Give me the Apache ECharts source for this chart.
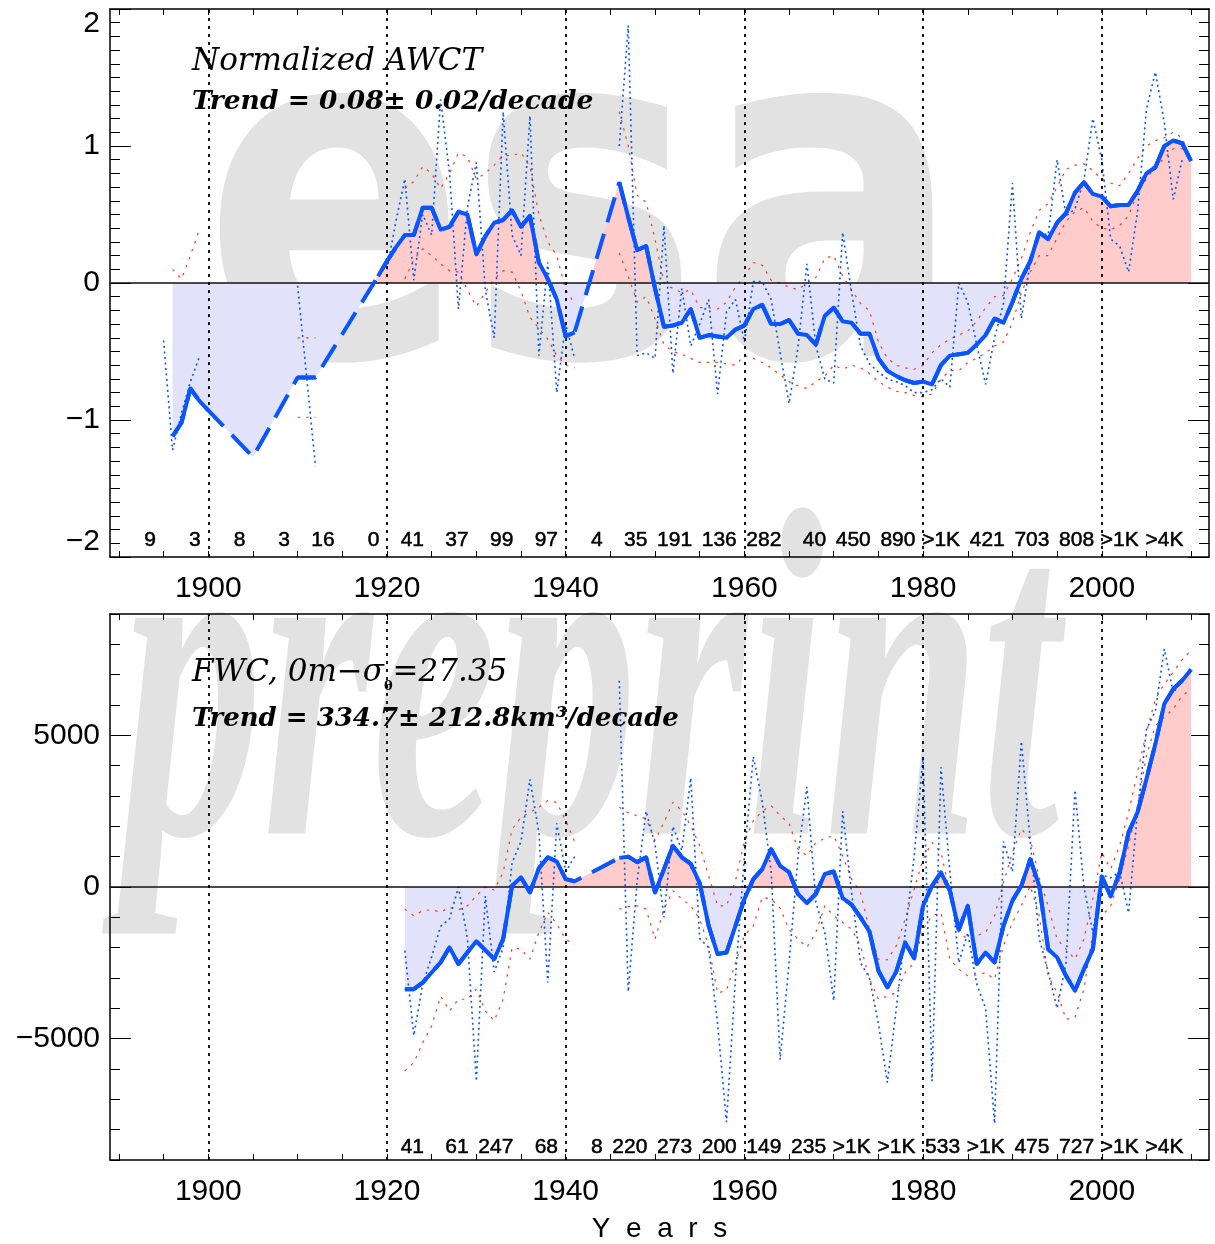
<!DOCTYPE html>
<html><head><meta charset="utf-8">
<script src="https://cdn.jsdelivr.net/npm/echarts@6/dist/echarts.min.js"></script>
<style>html,body{margin:0;padding:0;background:#fff}#c{width:1215px;height:1244px}</style>
</head><body><div id="c"></div>
<script>
// ---------------- DATA ----------------
const topStartYear = 1895;
// smoothed normalized AWCT (null = no data, drawn dashed across)
const topMain = [null,-1.12,-1.02,-0.77,-0.86,-0.93,null,null,null,null,-1.27,null,null,null,null,-0.69,-0.69,-0.69,null,null,null,null,null,null,
 0.05,0.16,0.26,0.35,0.35,0.55,0.55,0.39,0.41,0.52,0.50,0.21,0.34,0.44,0.46,0.53,0.41,0.49,0.15,0.03,-0.12,-0.39,-0.36,null,null,null,null,
 0.735,0.48,0.24,0.27,-0.04,-0.32,-0.31,-0.29,-0.19,-0.40,-0.38,-0.39,-0.40,-0.34,-0.31,-0.19,-0.16,-0.30,-0.30,-0.27,-0.37,-0.38,-0.45,-0.24,-0.18,
 -0.28,-0.29,-0.37,-0.37,-0.55,-0.64,-0.68,-0.71,-0.73,-0.72,-0.74,-0.60,-0.53,-0.52,-0.51,-0.45,-0.38,-0.26,-0.29,-0.14,0.03,0.16,0.37,0.32,0.44,
 0.51,0.66,0.735,0.65,0.63,0.56,0.57,0.57,0.67,0.80,0.845,1.00,1.04,1.02,0.89];
// annual values
const topRaw = [-0.42,-1.22,-0.95,-0.72,-0.54,null,null,null,null,null,null,null,null,null,null,-0.02,-0.68,-1.34,null,null,null,null,null,null,null,
 0.10,0.45,0.76,0.02,0.50,0.35,1.34,0.80,-0.19,0.55,0.88,-0.05,-0.40,1.25,0.35,0.20,1.22,-0.53,0.15,-0.80,-0.30,-0.55,null,null,null,null,
 1.00,1.88,-0.53,-0.51,-0.55,0.42,-0.66,-0.04,-0.46,-0.30,-0.12,-0.81,-0.21,-0.12,-0.43,0.01,0.01,-0.12,-0.51,-0.88,-0.47,0.14,-0.46,-0.70,-0.73,
 0.37,-0.07,-0.46,-0.59,-0.65,-0.70,-0.72,-0.75,-0.80,-0.80,-0.78,-0.70,-0.76,0.00,-0.14,-0.45,-0.74,-0.40,-0.15,0.73,-0.26,0.15,0.37,0.35,0.90,
 0.49,0.54,0.75,1.20,0.90,0.32,0.27,0.08,0.52,1.27,1.54,1.17,0.61,0.90,null];
// error bounds
const topUpper = [null,0.10,0.03,0.20,0.39,null,null,null,null,null,null,null,null,null,null,-0.40,-0.40,-0.40,null,null,null,null,null,null,null,
 null,null,0.69,0.74,0.85,0.80,0.69,0.80,0.95,0.92,0.76,0.80,0.86,0.93,0.93,0.95,0.85,0.50,0.30,0.20,-0.05,-0.15,null,null,null,null,
 1.25,1.00,0.64,0.59,0.32,0.00,-0.04,-0.07,-0.05,-0.18,-0.18,-0.19,-0.14,-0.03,0.05,0.15,0.13,0.02,0.00,-0.03,-0.05,0.00,0.04,0.18,0.20,
 0.05,-0.05,-0.15,-0.20,-0.43,-0.55,-0.60,-0.62,-0.63,-0.60,-0.51,-0.45,-0.41,-0.38,-0.35,-0.28,-0.18,-0.10,-0.09,0.03,0.18,0.37,0.53,0.58,0.70,
 0.83,0.86,0.87,0.82,0.76,0.73,0.71,0.80,0.91,1.00,1.04,1.06,1.10,1.06,0.88];
const topLower = [null,null,null,null,null,null,null,null,null,null,null,null,null,null,null,-0.98,-0.98,-0.98,null,null,null,null,null,null,null,
 null,null,0.03,0.17,0.25,0.20,0.14,0.09,0.08,-0.05,-0.17,-0.07,0.03,0.09,0.08,-0.06,-0.25,-0.33,-0.41,-0.53,-0.60,-0.62,null,null,null,null,
 0.22,0.05,-0.14,-0.10,-0.26,-0.45,-0.50,-0.52,-0.55,-0.58,-0.58,-0.58,-0.59,-0.60,-0.53,-0.55,-0.58,-0.62,-0.67,-0.72,-0.75,-0.77,-0.72,-0.68,-0.60,
 -0.63,-0.60,-0.62,-0.66,-0.72,-0.76,-0.79,-0.80,-0.82,-0.83,-0.81,-0.70,-0.64,-0.64,-0.58,-0.55,-0.51,-0.46,-0.43,-0.29,-0.07,0.08,0.20,0.20,0.33,
 0.45,0.52,0.55,0.45,0.40,0.39,0.42,0.49,0.66,0.76,0.85,0.91,0.98,0.98,0.90];

const botStartYear = 1922;
// FWC smoothed (km^3)
const botMain = [-3370,-3370,-3150,-2820,-2490,-1990,-2540,-2160,-1790,-2080,-2380,-1720,40,320,-180,620,980,840,260,190,null,null,null,null,
 960,1000,820,980,-180,590,1360,980,760,130,-1280,-2210,-2160,-1280,-400,260,590,1250,700,490,-230,-530,-230,430,510,-370,-580,-1000,-1470,
 -2760,-3310,-2790,-1830,-2350,-620,40,480,-120,-1410,-620,-2540,-2160,-2490,-1280,-450,40,920,40,-2050,-2320,-2930,-3420,-2710,-2050,350,
 -310,480,1800,2460,3560,4720,6040,6530,6810,7170];
const botRaw = [-2100,-4900,-3200,-2300,-1300,-1050,0,-1700,-6400,-300,-2800,-2000,800,1500,3550,1800,-3150,2100,500,1000,null,null,null,null,
 6800,-3450,200,2500,1400,-1000,2000,1200,3600,-1700,-2000,-4500,-7750,-3000,1000,4300,2800,500,-5700,-2500,1000,3300,-500,-1500,-3750,2500,
 -200,-2500,-3000,-4500,-6450,-4000,-1500,1000,4300,-6400,3950,500,-2500,-1500,-3200,-4000,-7800,1500,500,4800,1500,-1700,-2800,-4000,-2500,
 3200,0,-1500,400,300,500,-850,2500,5200,5800,7850,6400,6800,7200];
const botUpper = [-730,-950,-780,-750,-830,-670,-750,-620,-290,0,-100,480,1900,2300,2460,2630,2850,2790,2190,1500,null,null,null,null,
 2630,2450,2350,2250,1530,2130,2790,2520,2020,1360,370,-620,-620,200,1500,2190,2500,2680,2350,2100,1250,1030,1470,1600,1690,1030,260,-180,
 -1390,-2380,-2400,-1940,-1060,-70,920,1470,1150,-180,-1500,-1720,-1600,-1500,-950,150,1140,1910,1580,300,-620,-1720,-2050,-2380,-1720,-400,
 1140,600,1360,2460,3780,5100,6200,6700,7080,7500,7800];
const botLower = [-6060,-5790,-5130,-4580,-3600,-4080,-3700,-3700,-3370,-4080,-4410,-3700,-2000,-2050,-2380,-1500,-840,-1220,-1720,-1900,null,null,null,null,
 -730,-650,-620,-730,-1720,-730,-120,-400,-620,-1060,-1940,-3500,-3400,-2500,-1600,-1280,-340,-400,-700,-1400,-1720,-1990,-1500,-620,-950,-1170,
 -1390,-1940,-3040,-3700,-3600,-3480,-2820,-2500,-1390,-950,-840,-2380,-2710,-2930,-2900,-2820,-3040,-1940,-1170,-620,40,-950,-2930,-3480,-4360,
 -4300,-3370,-1500,-950,-620,260,1360,2680,4330,5320,5600,5870,6300,6530];

// number of profiles per 5-year bin
const topCountBins = [1890,1895,1900,1905,1910,1915,1920,1925,1930,1935,1940,1945,1950,1955,1960,1965,1970,1975,1980,1985,1990,1995,2000,2005];
const topCounts = ['9','3','8','3','16','0','41','37','99','97','4','35','191','136','282','40','450','890','>1K','421','703','808','>1K','>4K'];
const botCountBins = [1920,1925,1930,1935,1940,1945,1950,1955,1960,1965,1970,1975,1980,1985,1990,1995,2000,2005];
const botCounts = ['41','61','247','68','8','220','273','200','149','235','>1K','>1K','533','>1K','475','727','>1K','>4K'];

// axis ticks
const decadeLines = [1900,1920,1940,1960,1980,2000];
const xLabelTicks = [1900,1920,1940,1960,1980,2000];
const xMinorTicks = [1890,1895,1900,1905,1910,1915,1920,1925,1930,1935,1940,1945,1950,1955,1960,1965,1970,1975,1980,1985,1990,1995,2000,2005,2010];
const topYLabels = [-2,-1,0,1,2];
const topYMinor = [-1.9,-1.8,-1.7,-1.6,-1.5,-1.4,-1.3,-1.2,-1.1,-0.9,-0.8,-0.7,-0.6,-0.5,-0.4,-0.3,-0.2,-0.1,0.1,0.2,0.3,0.4,0.5,0.6,0.7,0.8,0.9,1.1,1.2,1.3,1.4,1.5,1.6,1.7,1.8,1.9];
const botYLabels = [-5000,0,5000];
const botYMinor = [-9000,-8000,-7000,-6000,-4000,-3000,-2000,-1000,1000,2000,3000,4000,6000,7000,8000,9000];

// ---------------- CHART ----------------
const BLUE = '#0a55ff', RED = '#ff3a1a', PINK = '#ffcccc', LAV = '#e2e2fb';
const SANS = '"Liberation Sans", Arial, sans-serif';
const SERIF = '"DejaVu Serif", serif';
const pairs = (start, arr) => arr.map((v, i) => [start + i, v]);
const minus = v => String(v).replace('-', '\u2212');

function xAxes(grid, withLabels, name) {
  const common = {
    type: 'value', gridIndex: grid, min: 1889, max: 2012,
    axisLine: { show: true, onZero: false, lineStyle: { color: '#000', width: 1.5 } },
    axisTick: { show: true, inside: true, length: 6, customValues: xMinorTicks, lineStyle: { color: '#000', width: 1 } },
    splitLine: { show: false }
  };
  return [
    Object.assign({}, common, {
      position: 'bottom',
      axisLabel: { show: withLabels, customValues: xLabelTicks, formatter: v => String(v), fontSize: 30, color: '#000', fontFamily: SANS, margin: 17 },
      name: name || '', nameLocation: 'middle', nameGap: 55,
      nameTextStyle: { fontSize: 28, color: '#000', fontFamily: SANS }
    }),
    Object.assign({}, common, { position: 'top', axisLabel: { show: false } })
  ];
}
function yAxes(grid, min, max, labels, minor, edgeAlign) {
  const base = { type: 'value', gridIndex: grid, min: min, max: max, splitLine: { show: false } };
  const line = { show: true, onZero: false, lineStyle: { color: '#000', width: 1.5 } };
  const majTick = { show: true, inside: true, length: 21, customValues: labels, lineStyle: { color: '#000', width: 1 } };
  const minTick = { show: true, inside: true, length: 10, customValues: minor, lineStyle: { color: '#000', width: 1 } };
  const lab = { show: true, customValues: labels, formatter: minus, fontSize: 30, color: '#000', fontFamily: SANS, margin: 10 };
  if (edgeAlign) { lab.verticalAlignMinLabel = 'bottom'; lab.verticalAlignMaxLabel = 'top'; }
  return [
    Object.assign({}, base, { position: 'left', axisLine: line, axisTick: majTick, axisLabel: lab }),
    Object.assign({}, base, { position: 'left', axisLine: { show: false }, axisTick: minTick, axisLabel: { show: false } }),
    Object.assign({}, base, { position: 'right', axisLine: line, axisTick: majTick, axisLabel: { show: false } }),
    Object.assign({}, base, { position: 'right', axisLine: { show: false }, axisTick: minTick, axisLabel: { show: false } })
  ];
}

function panelSeries(xi, yi, start, main, raw, upper, lower, bins, counts, countY) {
  const mainPts = pairs(start, main);
  const common = { type: 'line', xAxisIndex: xi, yAxisIndex: yi, symbol: 'none', silent: true, animation: false };
  return [
    Object.assign({}, common, { name: 'fill', data: mainPts, connectNulls: true, z: 1,
      lineStyle: { width: 0, opacity: 0 }, areaStyle: { opacity: 1 } }),
    Object.assign({}, common, { name: 'refs', data: [], z: 2,
      markLine: { silent: true, symbol: 'none', animation: false, label: { show: false },
        lineStyle: { color: '#000', type: [3, 5], width: 1.8 },
        data: [{ yAxis: 0, lineStyle: { type: 'solid', width: 1.5, color: '#111' } }].concat(decadeLines.map(d => ({ xAxis: d }))) } }),
    Object.assign({}, common, { name: 'upper', data: pairs(start, upper), connectNulls: false, z: 3,
      lineStyle: { color: RED, width: 1.2, type: [2.5, 6] } }),
    Object.assign({}, common, { name: 'lower', data: pairs(start, lower), connectNulls: false, z: 3,
      lineStyle: { color: RED, width: 1.2, type: [2.5, 6] } }),
    Object.assign({}, common, { name: 'annual', data: pairs(start, raw), connectNulls: false, z: 4,
      lineStyle: { color: BLUE, width: 1.6, type: [2, 3.5] } }),
    Object.assign({}, common, { name: 'gap', data: mainPts, connectNulls: true, z: 5,
      lineStyle: { color: BLUE, width: 4, type: [26, 12] } }),
    Object.assign({}, common, { name: 'smooth', data: mainPts, connectNulls: false, z: 6,
      lineStyle: { color: BLUE, width: 4, join: 'round' } }),
    { type: 'scatter', xAxisIndex: xi, yAxisIndex: yi, silent: true, animation: false, z: 7,
      symbolSize: 1, itemStyle: { color: '#ffffff', opacity: 1 },
      data: bins.map((b, i) => [b + 4.2, countY, counts[i]]),
      label: { show: true, position: 'left', distance: 0, formatter: p => p.data[2], fontSize: 21, opacity: 1,
               color: '#000', textBorderColor: '#000', textBorderWidth: 0.5, fontFamily: SANS } }
  ];
}

const series = panelSeries(0, 0, topStartYear, topMain, topRaw, topUpper, topLower, topCountBins, topCounts, -1.875)
  .concat(panelSeries(2, 4, botStartYear, botMain, botRaw, botUpper, botLower, botCountBins, botCounts, -8580));

const chart = echarts.init(document.getElementById('c'), null, { renderer: 'canvas' });
chart.setOption({
  animation: false,
  backgroundColor: '#fff',
  grid: [
    { left: 110, right: 6, top: 9, height: 548 },
    { left: 110, right: 6, top: 614, height: 547 }
  ],
  xAxis: xAxes(0, true).concat(xAxes(1, true, 'Y  e  a  r  s')),
  yAxis: yAxes(0, -2, 2, topYLabels, topYMinor, true).concat(yAxes(1, -9000, 9000, botYLabels, botYMinor, false)),
  visualMap: [
    { type: 'piecewise', show: false, seriesIndex: 0, dimension: 1,
      pieces: [{ gte: -3, lt: 0, color: LAV }, { gte: 0, lte: 3, color: PINK }], outOfRange: { color: LAV } },
    { type: 'piecewise', show: false, seriesIndex: 8, dimension: 1,
      pieces: [{ gte: -20000, lt: 0, color: LAV }, { gte: 0, lte: 20000, color: PINK }], outOfRange: { color: LAV } }
  ],
  graphic: [
    { type: 'text', z: -10, silent: true, x: 203, y: 234, scaleX: 0.83,
      style: { text: 'esa', font: 'bold 470px "DejaVu Sans"', fill: '#e2e2e2', verticalAlign: 'middle' } },
    { type: 'text', z: -10, silent: true, x: 122, y: 712, scaleX: 0.598,
      style: { text: 'preprint', font: 'italic bold 470px "Liberation Serif"', fill: '#e2e2e2', verticalAlign: 'middle' } },
    { type: 'text', z: 50, silent: true, x: 192, y: 46,
      style: { text: 'Normalized AWCT', font: 'italic 31px ' + SERIF, fill: '#000' } },
    { type: 'text', z: 50, silent: true, x: 192, y: 89,
      style: { text: 'Trend = 0.08\u00b1 0.02/decade', font: 'italic bold 26.5px ' + SERIF, fill: '#000' } },
    { type: 'text', z: 50, silent: true, x: 192, y: 657,
      style: { text: '{a|FWC, 0m\u2212\u03c3}{s|\u03b8}{a|=27.35}', fill: '#000',
        rich: { a: { font: 'italic 31px ' + SERIF, fill: '#000', verticalAlign: 'top', lineHeight: 40 },
                s: { font: 'bold 13px ' + SERIF, fill: '#000', verticalAlign: 'bottom', lineHeight: 40, padding: [0, 0, 4, 0] } } } },
    { type: 'text', z: 50, silent: true, x: 192, y: 706,
      style: { text: 'Trend = 334.7\u00b1 212.8km\u00b3/decade', font: 'italic bold 26px ' + SERIF, fill: '#000' } }
  ],
  series: series
});
</script>
</body></html>
